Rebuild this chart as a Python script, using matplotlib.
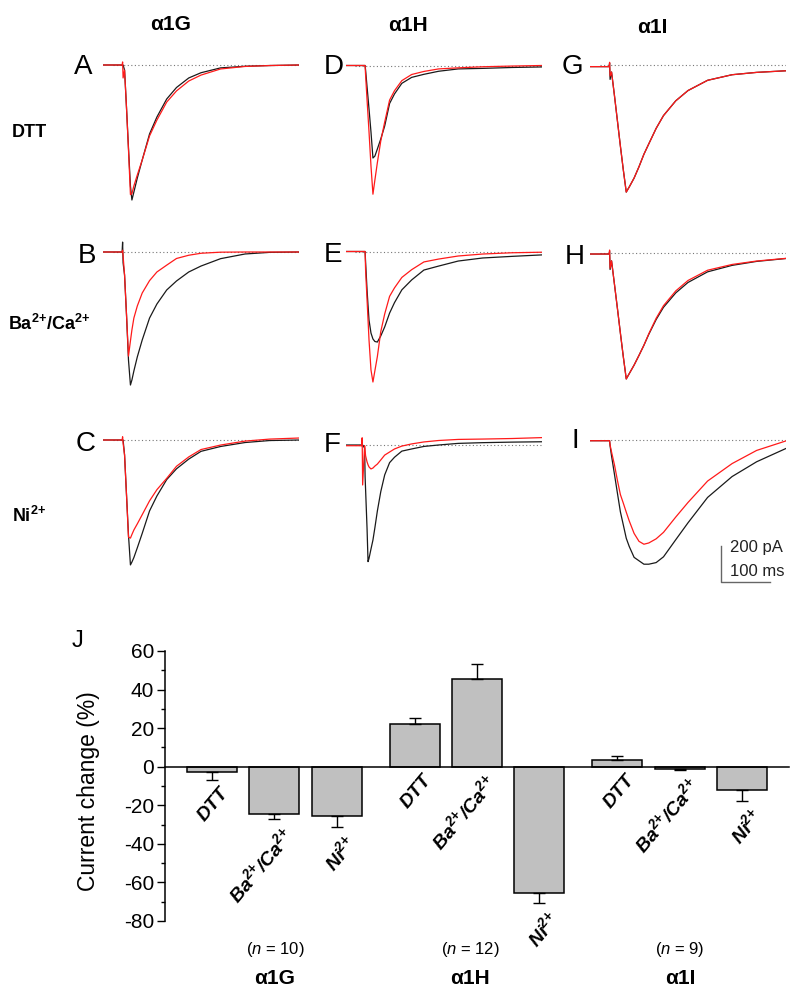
import matplotlib
matplotlib.use("Agg")
import matplotlib.pyplot as plt
from matplotlib.ticker import MultipleLocator

plt.rcParams['font.family'] = ['Liberation Sans', 'DejaVu Sans']
plt.rcParams['mathtext.fontset'] = 'custom'
plt.rcParams['mathtext.rm'] = 'Liberation Sans'
plt.rcParams['mathtext.bf'] = 'Liberation Sans:bold'
plt.rcParams['mathtext.sf'] = 'Liberation Sans:bold:italic'
plt.rcParams['mathtext.it'] = 'Liberation Sans:italic'

# ---------------- trace data (time in ms, current in pA) ----------------
t_G = [0, 39, 40, 41, 44, 48, 52, 56, 59, 63, 70, 80, 95, 110, 130, 150, 175, 200, 240, 290, 340, 400]
A_black = [0, 0, 0, 0, -28, -239, -461, -672, -750, -706, -628, -528, -383, -289, -189, -125, -72, -43, -16, -7, -3, 0]
A_red = [0, 0, 17, -72, -28, -239, -470, -720, -715, -672, -611, -528, -394, -306, -206, -144, -89, -56, -22, -8, -3, 0]
B_black = [0, 0, 55, -60, -128, -350, -600, -739, -711, -661, -583, -489, -367, -289, -211, -161, -111, -78, -37, -11, -2, 0]
B_red = [0, 0, 10, -20, -128, -350, -578, -494, -433, -367, -300, -228, -159, -111, -73, -36, -18, -7, -1, 0, 0, 0]
C_black = [0, 0, 0, 0, -83, -306, -528, -694, -678, -653, -599, -519, -394, -311, -220, -160, -106, -63, -36, -14, -3, 0]
C_red = [0, 0, 18, -17, -83, -306, -540, -545, -525, -500, -466, -415, -338, -276, -213, -146, -94, -53, -28, -6, 5, 11]

t_H = [0, 33, 34, 35, 39, 40, 41, 44, 46, 48, 52, 56, 60, 65, 72, 80, 90, 100, 115, 135, 160, 190, 230, 280, 340, 400]
D_black = [0, 0, 0, 0, 0, 0, -25, -119, -180, -242, -369, -514, -503, -464, -408, -336, -211, -158, -99, -66, -49, -32, -19, -16, -11, -8]
D_red = [0, 0, 0, 0, 0, 0, -53, -192, -280, -369, -558, -715, -636, -540, -419, -314, -192, -140, -84, -50, -33, -19, -13, -7, -3, 0]
E_black = [0, 0, 0, 0, 0, 0, -58, -214, -300, -381, -453, -486, -500, -503, -469, -419, -342, -284, -213, -158, -103, -81, -53, -36, -27, -19]
E_red = [0, 0, 0, 0, 0, 0, -103, -269, -380, -492, -658, -725, -662, -584, -445, -347, -249, -202, -144, -101, -58, -42, -25, -14, -7, -4]
F_black = [0, 0, 0, 0, -17, -176, -248, -465, -648, -630, -578, -528, -459, -367, -259, -166, -98, -68, -34, -22, -8, 0, 9, 13, 16, 18]
F_red = [-4, -4, 40, -222, -4, -30, -60, -94, -110, -122, -133, -128, -117, -106, -83, -56, -39, -22, -6, 6, 17, 25, 31, 33, 36, 41]

t_I = [0, 39, 40, 41, 44, 50, 56, 62, 68, 74, 80, 90, 100, 110, 120, 135, 150, 175, 200, 240, 290, 340, 400]
G_black = [-9, -9, 10, -80, -39, -172, -311, -450, -583, -706, -678, -628, -565, -496, -438, -352, -281, -199, -142, -85, -54, -41, -32]
G_red = [-9, -9, 15, -61, -39, -172, -311, -450, -583, -706, -678, -628, -565, -496, -438, -352, -281, -199, -142, -85, -54, -41, -32]
H_black = [-4, -4, 10, -90, -42, -174, -307, -443, -575, -698, -669, -621, -567, -511, -450, -368, -300, -220, -162, -103, -67, -45, -29]
H_red = [-4, -4, 18, -83, -42, -174, -307, -443, -575, -698, -669, -621, -567, -511, -447, -361, -291, -209, -151, -94, -62, -43, -28]
I_black = [-4, -4, -4, -33, -89, -192, -296, -399, -472, -546, -591, -652, -671, -690, -690, -681, -649, -554, -460, -319, -203, -121, -47]
I_red = [-4, -4, -4, -28, -67, -139, -225, -303, -351, -401, -449, -519, -563, -579, -572, -549, -513, -428, -347, -228, -131, -58, -5]

panel_letters = ['A', 'B', 'C', 'D', 'E', 'F', 'G', 'H', 'I']
column_titles = ['α1G', 'α1H', 'α1I']
row_labels = ['DTT', r'Ba$^{\mathbf{2{+}}}$/Ca$^{\mathbf{2{+}}}$', r'Ni$^{\mathbf{2{+}}}$']
scale_ms = 100
scale_pA = 200

# ---------------- bar chart data ----------------
conditions = ['DTT', r'Ba$^{\mathsf{2{+}}}$/Ca$^{\mathsf{2{+}}}$', r'Ni$^{\mathsf{2{+}}}$']
groups = ['α1G', 'α1H', 'α1I']
n_cells = [10, 12, 9]
means_G = [-2.8, -24.3, -25.5]
sem_G = [4.0, 3.0, 6.0]
means_H = [22.0, 45.7, -65.3]
sem_H = [3.3, 7.8, 5.5]
means_I = [3.6, -1.0, -12.2]
sem_I = [1.8, 0.6, 5.5]
yticks_bar = [-80, -60, -40, -20, 0, 20, 40, 60]

W, H = 800, 993
fig = plt.figure(figsize=(8, 9.93), dpi=100)

PX_MS = 0.49
PX_PA = 0.18
TSPAN = 400
YTOP, YBOT = 60, -1000

def trace_axes(x0, ybase):
    top = ybase - YTOP * PX_PA
    bot = ybase - YBOT * PX_PA
    ax = fig.add_axes([x0 / W, 1 - bot / H, TSPAN * PX_MS / W, (bot - top) / H])
    ax.set_xlim(0, TSPAN)
    ax.set_ylim(YBOT, YTOP)
    ax.axis('off')
    return ax

col_x0 = [103, 345.5, 590]
baselines = [[65, 252, 440], [65.5, 251.5, 445], [65, 253.3, 440]]
times = [t_G, t_H, t_I]
traces = [[(A_black, A_red), (B_black, B_red), (C_black, C_red)],
          [(D_black, D_red), (E_black, E_red), (F_black, F_red)],
          [(G_black, G_red), (H_black, H_red), (I_black, I_red)]]
letter_pos = [[(83, 74), (87.5, 262.7), (86, 450.7)],
              [(334, 74), (333.5, 261.7), (332.5, 451.7)],
              [(572, 73.5), (575, 264.5), (575, 448.5)]]

axes_tr = {}
for c in range(3):
    for r in range(3):
        ax = trace_axes(col_x0[c], baselines[c][r])
        axes_tr[(c, r)] = ax
        ax.plot([20, TSPAN], [0, 0], color='#777777', lw=0.8,
                linestyle=(0, (1, 2.2)), zorder=1)
        blk, red = traces[c][r]
        ax.plot(times[c], blk, color='#1a1a1a', lw=0.9, zorder=2)
        ax.plot(times[c], red, color='#ff1a1a', lw=0.9, zorder=3)
        lx, ly = letter_pos[c][r]
        fig.text(lx / W, 1 - ly / H, panel_letters[c * 3 + r], fontsize=20,
                 ha='center', va='baseline')

# column titles
title_pos = [(171, 30), (408, 31), (652, 33)]
for (x, y), s in zip(title_pos, column_titles):
    fig.text(x / W, 1 - y / H, s, fontsize=15, fontweight='bold',
             ha='center', va='baseline')

# row labels
row_pos = [(12, 136.7), (8, 330), (12, 521.7)]
for (x, y), s in zip(row_pos, row_labels):
    fig.text(x / W, 1 - y / H, s, fontsize=13, fontweight='bold',
             ha='left', va='baseline')

# scale bar in panel I
axI = axes_tr[(2, 2)]
t0, i0 = 267, -789
axI.plot([t0, t0, t0 + scale_ms], [i0 + scale_pA, i0, i0], color='#666666',
         lw=1.0, clip_on=False)
axI.text(t0 + 19, -620, f'{scale_pA} pA', fontsize=12, ha='left', va='baseline',
         color='#222222')
axI.text(t0 + 19, -754, f'{scale_ms} ms', fontsize=12, ha='left', va='baseline',
         color='#222222')

# ---------------- bar chart ----------------
axb = fig.add_axes([165 / W, 1 - 921 / H, (789 - 165) / W, (921 - 651) / H])
group_start = [0.75, 4.0, 7.25]
all_means = [means_G, means_H, means_I]
all_sems = [sem_G, sem_H, sem_I]
for g in range(3):
    pos = [group_start[g] + i for i in range(3)]
    m = all_means[g]
    s = all_sems[g]
    axb.bar(pos, m, width=0.8, color='#c0c0c0', edgecolor='black', lw=1.1, zorder=2)
    lower = [si if mi < 0 else 0 for mi, si in zip(m, s)]
    upper = [si if mi >= 0 else 0 for mi, si in zip(m, s)]
    axb.errorbar(pos, m, yerr=[lower, upper], fmt='none', ecolor='black',
                 elinewidth=1.0, capsize=4.3, capthick=1.0, zorder=3)
    for p, mi, si, lab in zip(pos, m, s, conditions):
        yb = min(0, mi - si) - 2.5
        axb.text(p + 0.12, yb, lab, rotation=50, ha='right', va='top',
                 rotation_mode='anchor', fontsize=14, fontweight='bold',
                 fontstyle='italic')

axb.set_xlim(0, 10)
axb.set_ylim(-80, 60)
axb.spines['top'].set_visible(False)
axb.spines['right'].set_visible(False)
axb.spines['bottom'].set_position(('data', 0))
axb.spines['bottom'].set_linewidth(1.1)
axb.spines['left'].set_linewidth(1.1)
axb.set_xticks([])
axb.set_yticks(yticks_bar)
axb.set_yticklabels([str(v) for v in yticks_bar])
axb.yaxis.set_minor_locator(MultipleLocator(10))
axb.tick_params(axis='y', which='major', length=6, width=1.0, labelsize=15, pad=2)
axb.tick_params(axis='y', which='minor', length=3, width=1.0)
axb.set_ylabel('Current change (%)', fontsize=16.5, labelpad=2)
axb.yaxis.set_label_coords(-(165 - 100) / 624, (921 - 791) / 270)

fig.text(78 / W, 1 - 647 / H, 'J', fontsize=17, ha='center', va='baseline')

grp_x = [275, 470, 680]
for x, g, n in zip(grp_x, groups, n_cells):
    fig.text(x / W, 1 - 954 / H, f'($\\it{{n}}$ = {n})', fontsize=12,
             family=['Liberation Sans Narrow', 'Liberation Sans'],
             ha='center', va='baseline')
    fig.text(x / W, 1 - 984 / H, g, fontsize=15, fontweight='bold',
             ha='center', va='baseline')

fig.savefig('out.png', dpi=100)
